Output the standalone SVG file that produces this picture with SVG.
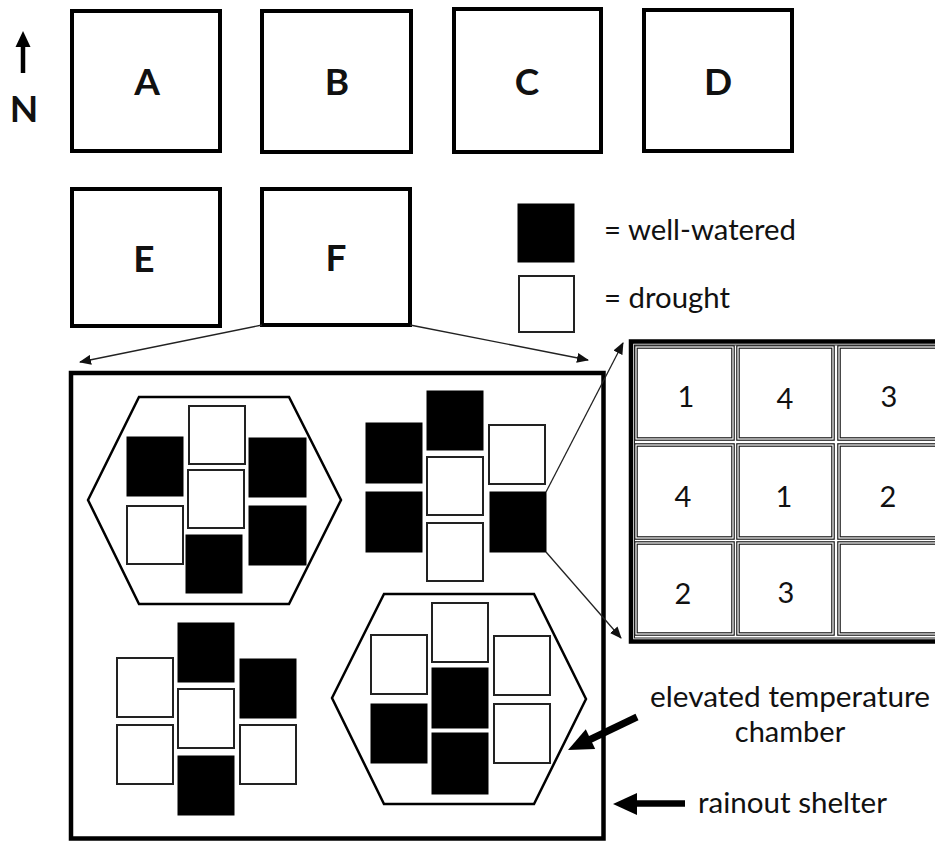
<svg xmlns="http://www.w3.org/2000/svg" width="935" height="841" viewBox="0 0 935 841">
<defs>
<style>
.plot{fill:#fff;stroke:#000;stroke-width:4}
.lbl{font-family:Lato,"Liberation Sans",sans-serif;font-weight:700;font-size:37px;text-anchor:middle;fill:#111}
.t{font-family:Lato,"Open Sans",sans-serif;font-size:29px;fill:#111}
.dg{font-family:Lato,"Open Sans",sans-serif;font-size:29px;fill:#111;text-anchor:middle}
.w{fill:#fff;stroke:#222;stroke-width:2}
.b{fill:#000;stroke:#000;stroke-width:1}
.hex{fill:#fff;stroke:#000;stroke-width:2.5}
.cell{fill:#fff;stroke:#1a1a1a;stroke-width:3.6}
.cellin{fill:none;stroke:#fff;stroke-width:1.2}
.thin{stroke:#222;stroke-width:1.3;fill:none}
</style>
<marker id="ah" viewBox="0 0 12 10" refX="11" refY="5" markerWidth="12" markerHeight="10" markerUnits="userSpaceOnUse" orient="auto">
<path d="M0,0 L12,5 L0,10 z" fill="#111"/>
</marker>
</defs>
<rect width="935" height="841" fill="#fff"/>

<g id="north">
<line x1="23" y1="73" x2="23" y2="44" stroke="#000" stroke-width="4.5"/>
<polygon points="23,31 15.5,47 30.5,47" fill="#000"/>
<text x="24" y="122" class="lbl" font-size="35">N</text>
</g>

<g id="plot-A"><rect class="plot" x="72" y="11" width="148" height="140"/><text class="lbl" x="147" y="95">A</text></g>
<g id="plot-B"><rect class="plot" x="262" y="11" width="149" height="141"/><text class="lbl" x="337" y="95">B</text></g>
<g id="plot-C"><rect class="plot" x="454" y="9" width="147" height="143"/><text class="lbl" x="527" y="95">C</text></g>
<g id="plot-D"><rect class="plot" x="644" y="10" width="148" height="141"/><text class="lbl" x="718" y="95">D</text></g>
<g id="plot-E"><rect class="plot" x="72" y="189" width="148" height="137"/><text class="lbl" x="144" y="272">E</text></g>
<g id="plot-F"><rect class="plot" x="262" y="189" width="148" height="136"/><text class="lbl" x="336" y="271">F</text></g>

<g id="legend">
<rect class="b" x="518" y="204" width="56" height="58"/>
<rect class="w" x="519" y="276" width="55" height="56" stroke-width="1.5"/>
<text class="t" x="604" y="240" font-size="30" textLength="192" lengthAdjust="spacingAndGlyphs">= well-watered</text>
<text class="t" x="604" y="308" font-size="30" textLength="126" lengthAdjust="spacingAndGlyphs">= drought</text>
</g>

<g id="rainout-shelter">
<rect x="71" y="373" width="532.5" height="465.5" fill="none" stroke="#000" stroke-width="4.5"/>
</g>

<g id="chamber-1">
<polygon class="hex" points="88,500 139,397 289,397 341,500 289,604 139,604"/>
<rect class="w" x="189" y="406" width="56" height="58"/>
<rect class="b" x="127" y="437" width="56" height="59"/>
<rect class="b" x="249" y="438" width="57" height="59"/>
<rect class="w" x="188" y="470" width="56" height="58"/>
<rect class="w" x="127" y="506" width="56" height="58"/>
<rect class="b" x="249" y="506" width="57" height="59"/>
<rect class="b" x="186" y="535" width="56" height="58"/>
</g>

<g id="ambient-1">
<rect class="b" x="427" y="391" width="56" height="59"/>
<rect class="b" x="366" y="423" width="56" height="60"/>
<rect class="w" x="489" y="425" width="56" height="59"/>
<rect class="w" x="427" y="457" width="56" height="58"/>
<rect class="b" x="366" y="492" width="56" height="60"/>
<rect class="b" x="490" y="492" width="56" height="60"/>
<rect class="w" x="427" y="523" width="56" height="58"/>
</g>

<g id="ambient-2">
<rect class="b" x="178" y="623" width="56" height="59"/>
<rect class="w" x="117" y="658" width="56" height="59"/>
<rect class="b" x="240" y="659" width="56" height="59"/>
<rect class="w" x="178" y="689" width="56" height="59"/>
<rect class="w" x="117" y="725" width="56" height="59"/>
<rect class="w" x="240" y="725" width="56" height="59"/>
<rect class="b" x="178" y="756" width="56" height="59"/>
</g>

<g id="chamber-2">
<polygon class="hex" points="332,698 384,594 534,594 586,699 534,804 384,804"/>
<rect class="w" x="432" y="603" width="56" height="59"/>
<rect class="w" x="371" y="635" width="56" height="59"/>
<rect class="w" x="494" y="636" width="56" height="59"/>
<rect class="b" x="432" y="668" width="56" height="60"/>
<rect class="b" x="371" y="704" width="56" height="59"/>
<rect class="w" x="494" y="704" width="56" height="59"/>
<rect class="b" x="432" y="733" width="56" height="61"/>
</g>

<g id="pot-inset">
<rect x="631" y="341.5" width="330" height="300" fill="#fff" stroke="#000" stroke-width="4.5"/>
<rect x="634.5" y="345" width="330" height="293" fill="none" stroke="#222" stroke-width="1"/>
<rect class="cell" x="636" y="347" width="97" height="92"/><rect class="cellin" x="636" y="347" width="97" height="92"/>
<rect class="cell" x="738" y="347" width="95" height="92"/><rect class="cellin" x="738" y="347" width="95" height="92"/>
<rect class="cell" x="839" y="347" width="110" height="92"/><rect class="cellin" x="839" y="347" width="110" height="92"/>
<rect class="cell" x="636" y="445" width="97" height="93"/><rect class="cellin" x="636" y="445" width="97" height="93"/>
<rect class="cell" x="738" y="445" width="95" height="93"/><rect class="cellin" x="738" y="445" width="95" height="93"/>
<rect class="cell" x="839" y="445" width="110" height="93"/><rect class="cellin" x="839" y="445" width="110" height="93"/>
<rect class="cell" x="636" y="543" width="97" height="91"/><rect class="cellin" x="636" y="543" width="97" height="91"/>
<rect class="cell" x="738" y="543" width="95" height="91"/><rect class="cellin" x="738" y="543" width="95" height="91"/>
<rect class="cell" x="839" y="543" width="110" height="91"/><rect class="cellin" x="839" y="543" width="110" height="91"/>
<text class="dg" x="686" y="407">1</text>
<text class="dg" x="785" y="409">4</text>
<text class="dg" x="889" y="407">3</text>
<text class="dg" x="683" y="507">4</text>
<text class="dg" x="784" y="507">1</text>
<text class="dg" x="888" y="507">2</text>
<text class="dg" x="683" y="604">2</text>
<text class="dg" x="786" y="603">3</text>
</g>

<g id="labels">
<text class="t" x="650" y="707" textLength="280" lengthAdjust="spacingAndGlyphs">elevated temperature</text>
<text class="t" x="790" y="742" text-anchor="middle">chamber</text>
<text class="t" x="698" y="813" textLength="189" lengthAdjust="spacingAndGlyphs">rainout shelter</text>
</g>

<g id="connectors">
<line class="thin" x1="262" y1="325" x2="80" y2="362" marker-end="url(#ah)"/>
<line class="thin" x1="410" y1="325" x2="588" y2="360" marker-end="url(#ah)"/>
<line class="thin" x1="546" y1="492" x2="623" y2="343" marker-end="url(#ah)"/>
<line class="thin" x1="546" y1="552" x2="621" y2="638" marker-end="url(#ah)"/>
<line x1="637" y1="717" x2="588" y2="740.5" stroke="#000" stroke-width="7"/>
<polygon points="568,750 595.2,749.1 585.8,729.3" fill="#000"/>
<line x1="685" y1="803.5" x2="634" y2="803.5" stroke="#000" stroke-width="6.5"/>
<polygon points="613,804 637,793 637,815" fill="#000"/>
</g>
</svg>
